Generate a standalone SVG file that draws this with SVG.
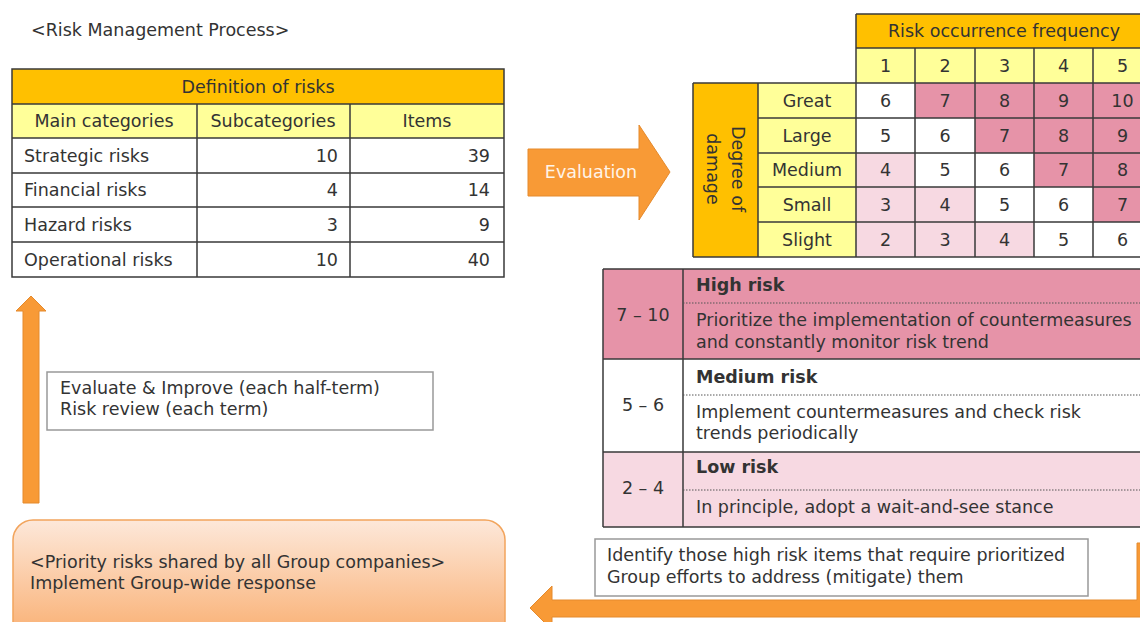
<svg xmlns="http://www.w3.org/2000/svg" width="1140" height="622" viewBox="0 0 1140 622">
<defs>
<style>
text{font-family:"DejaVu Sans","Liberation Sans",sans-serif;font-size:17.5px;fill:#333}
.c{text-anchor:middle}
.r{text-anchor:end}
.b{font-weight:bold}
.grid{stroke:#3a3a3a;stroke-width:1.5;fill:none}
.or{fill:#FFC000}
.ye{fill:#FFFF99}
.dp{fill:#E693A8}
.lp{fill:#F7D9E2}
.wh{fill:#FFFFFF}
.dot{stroke:#555;stroke-width:1;stroke-dasharray:1.5 1.5;fill:none}
.note{fill:#fff;stroke:#999;stroke-width:1.5}
.arrow{fill:#F89A36;stroke:#E58A2C;stroke-width:1}
</style>
<linearGradient id="peach" x1="0" y1="0" x2="0" y2="1">
<stop offset="0" stop-color="#FDE8DA"/>
<stop offset="1" stop-color="#F9A967"/>
</linearGradient>
</defs>
<rect width="1140" height="622" fill="#fff"/>

<g id="title"><text x="31" y="36">&lt;Risk Management Process&gt;</text></g>

<g id="risk-definition-table">
<rect x="12" y="69" width="492" height="35" class="or"/>
<rect x="12" y="104" width="492" height="34" class="ye"/>
<rect x="12" y="138" width="492" height="139" class="wh"/>
<path class="grid" d="M12,69H504V277H12Z M12,104H504 M12,138H504 M12,173H504 M12,207H504 M12,242H504 M197,104V277 M350,104V277"/>
<text class="c" x="258" y="93">Definition of risks</text>
<text class="c" x="104" y="127">Main categories</text>
<text class="c" x="273" y="127">Subcategories</text>
<text class="c" x="427" y="127">Items</text>
<text x="24" y="162">Strategic risks</text><text class="r" x="338" y="162">10</text><text class="r" x="490" y="162">39</text>
<text x="24" y="196">Financial risks</text><text class="r" x="338" y="196">4</text><text class="r" x="490" y="196">14</text>
<text x="24" y="231">Hazard risks</text><text class="r" x="338" y="231">3</text><text class="r" x="490" y="231">9</text>
<text x="24" y="266">Operational risks</text><text class="r" x="338" y="266">10</text><text class="r" x="490" y="266">40</text>
</g>

<g id="risk-matrix">
<rect x="856" y="14" width="300" height="34" class="or"/>
<rect x="856" y="48" width="300" height="35" class="ye"/>
<rect x="693" y="83" width="65" height="174" class="or"/>
<rect x="758" y="83" width="98" height="174" class="ye"/>
<!-- Great -->
<rect x="856" y="83" width="59" height="35" class="wh"/><rect x="915" y="83" width="241" height="35" class="dp"/>
<!-- Large -->
<rect x="856" y="118" width="119" height="35" class="wh"/><rect x="975" y="118" width="181" height="35" class="dp"/>
<!-- Medium -->
<rect x="856" y="153" width="59" height="34" class="lp"/><rect x="915" y="153" width="119" height="34" class="wh"/><rect x="1034" y="153" width="122" height="34" class="dp"/>
<!-- Small -->
<rect x="856" y="187" width="119" height="35" class="lp"/><rect x="975" y="187" width="118" height="35" class="wh"/><rect x="1093" y="187" width="63" height="35" class="dp"/>
<!-- Slight -->
<rect x="856" y="222" width="178" height="35" class="lp"/><rect x="1034" y="222" width="122" height="35" class="wh"/>
<path class="grid" d="M856,14H1156 M856,48H1156 M693,83H1156 M758,118H1156 M758,153H1156 M758,187H1156 M758,222H1156 M693,257H1156 M856,14V257 M915,48V257 M975,48V257 M1034,48V257 M1093,48V257 M693,83V257 M758,83V257"/>
<text class="c" x="1004" y="37">Risk occurrence frequency</text>
<text class="c" x="885.5" y="72">1</text><text class="c" x="945" y="72">2</text><text class="c" x="1004.5" y="72">3</text><text class="c" x="1063.5" y="72">4</text><text class="c" x="1122.5" y="72">5</text>
<text class="c" transform="translate(738,169) rotate(90)" dominant-baseline="central">Degree of</text>
<text class="c" transform="translate(713,169) rotate(90)" dominant-baseline="central">damage</text>
<text class="c" x="807" y="107">Great</text><text class="c" x="807" y="142">Large</text><text class="c" x="807" y="176">Medium</text><text class="c" x="807" y="211">Small</text><text class="c" x="807" y="246">Slight</text>
<text class="c" x="885.5" y="107">6</text><text class="c" x="945" y="107">7</text><text class="c" x="1004.5" y="107">8</text><text class="c" x="1063.5" y="107">9</text><text class="c" x="1122.5" y="107">10</text>
<text class="c" x="885.5" y="142">5</text><text class="c" x="945" y="142">6</text><text class="c" x="1004.5" y="142">7</text><text class="c" x="1063.5" y="142">8</text><text class="c" x="1122.5" y="142">9</text>
<text class="c" x="885.5" y="176">4</text><text class="c" x="945" y="176">5</text><text class="c" x="1004.5" y="176">6</text><text class="c" x="1063.5" y="176">7</text><text class="c" x="1122.5" y="176">8</text>
<text class="c" x="885.5" y="211">3</text><text class="c" x="945" y="211">4</text><text class="c" x="1004.5" y="211">5</text><text class="c" x="1063.5" y="211">6</text><text class="c" x="1122.5" y="211">7</text>
<text class="c" x="885.5" y="246">2</text><text class="c" x="945" y="246">3</text><text class="c" x="1004.5" y="246">4</text><text class="c" x="1063.5" y="246">5</text><text class="c" x="1122.5" y="246">6</text>
</g>

<g id="risk-legend">
<rect x="603" y="269" width="550" height="90" class="dp"/>
<rect x="603" y="359" width="550" height="93" class="wh"/>
<rect x="603" y="452" width="550" height="75" class="lp"/>
<path class="grid" d="M603,269H1153 M603,359H1153 M603,452H1153 M603,527H1153 M603,269V527 M683,269V527"/>
<path class="dot" d="M683,303H1140 M683,395H1140 M683,490H1140"/>
<text class="c" x="643" y="321">7 – 10</text>
<text class="c" x="643" y="411">5 – 6</text>
<text class="c" x="643" y="494">2 – 4</text>
<text class="b" x="696" y="291">High risk</text>
<text x="696" y="326">Prioritize the implementation of countermeasures</text>
<text x="696" y="348">and constantly monitor risk trend</text>
<text class="b" x="696" y="383">Medium risk</text>
<text x="696" y="418">Implement countermeasures and check risk</text>
<text x="696" y="439">trends periodically</text>
<text class="b" x="696" y="473">Low risk</text>
<text x="696" y="513">In principle, adopt a wait-and-see stance</text>
</g>

<g id="review-box">
<rect x="47" y="372" width="386" height="58" class="note"/>
<text x="60" y="394">Evaluate &amp; Improve (each half-term)</text>
<text x="60" y="415">Risk review (each term)</text>
</g>

<g id="priority-box">
<rect x="13" y="520" width="492" height="130" rx="20" ry="20" fill="url(#peach)" stroke="#F2A45C" stroke-width="1.5"/>
<text x="30" y="568">&lt;Priority risks shared by all Group companies&gt;</text>
<text x="30" y="589">Implement Group-wide response</text>
</g>

<g id="identify-box">
<rect x="595" y="539" width="493" height="57" class="note"/>
<text x="607" y="561">Identify those high risk items that require prioritized</text>
<text x="607" y="583">Group efforts to address (mitigate) them</text>
</g>

<g id="connectors">
<path id="evaluation-arrow" class="arrow" d="M528,149H639V125L670,172L639,220V196H528Z"/>
<text class="c" x="591" y="178" style="fill:#FFF4E8">Evaluation</text>
<path id="review-arrow" class="arrow" d="M23,503V311H16L31,296L46,311H39V503Z"/>
<path id="identify-arrow" class="arrow" d="M1137,543H1160V617H552V630L530,608L552,586V600H1137Z"/>
</g>
</svg>
